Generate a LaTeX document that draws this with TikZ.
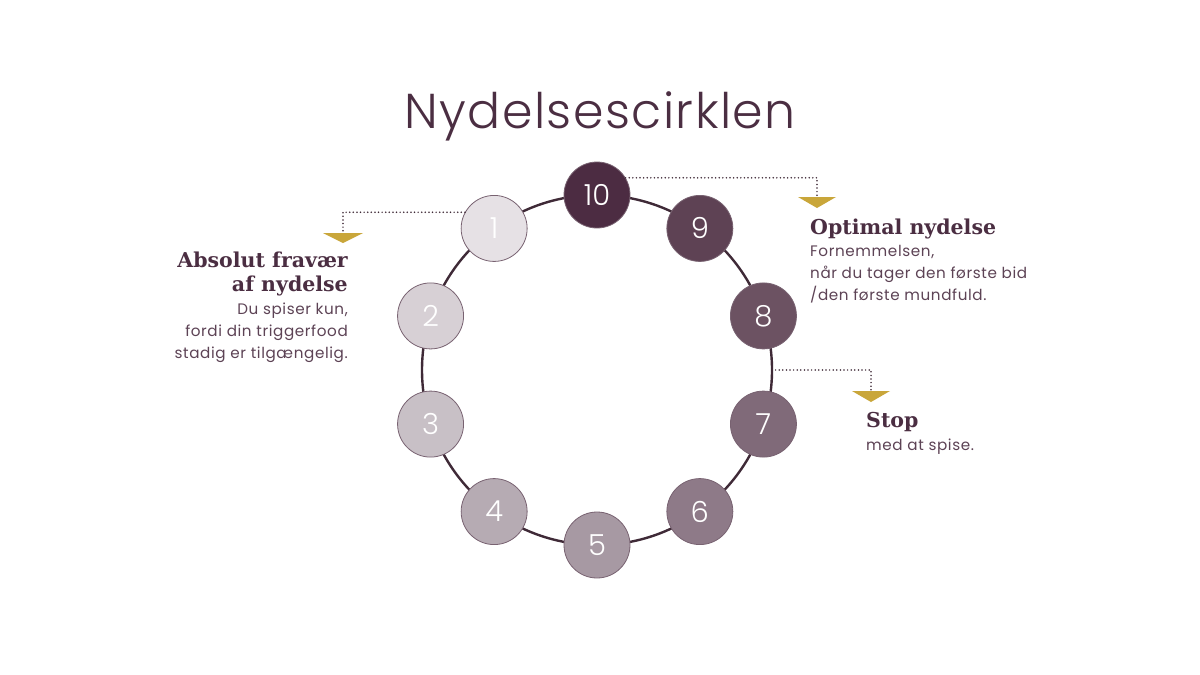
\documentclass[tikz,border=0pt]{standalone}
\usepackage{fontspec}
\setmainfont{Poppins}[LetterSpace=4]
\newfontfamily\thinfont{Poppins Light}
\newfontfamily\titlefont{Poppins Light}[LetterSpace=3]
\newfontfamily\headfont{DejaVu Serif}
\usepackage{tikz}
\usetikzlibrary{positioning}
\usetikzlibrary{calc}
\definecolor{plum}{HTML}{4B2E42}
\definecolor{ringline}{HTML}{3F2A37}
\definecolor{gold}{HTML}{C9A63A}
\definecolor{c1}{HTML}{E6E1E5}
\definecolor{c2}{HTML}{D7D0D5}
\definecolor{c3}{HTML}{C8C0C6}
\definecolor{c4}{HTML}{B6ABB3}
\definecolor{c5}{HTML}{A799A3}
\definecolor{c6}{HTML}{8E7A88}
\definecolor{c7}{HTML}{806A79}
\definecolor{c8}{HTML}{6C5262}
\definecolor{c9}{HTML}{5E4254}
\definecolor{c10}{HTML}{4C2C42}
\tikzstyle{num} = [draw=plum!75, circle, minimum size=66pt, inner sep=0pt, line width=0.8pt, text=white, font=\thinfont\fontsize{29}{29}\selectfont]
\tikzstyle{coord} = [coordinate]
\tikzstyle{link} = [ringline, line width=1.7pt, line cap=round, dash pattern=on 0pt off 3.6pt]
\tikzstyle{head} = [inner sep=0pt, text=plum, font=\headfont\bfseries\fontsize{20.5}{24}\selectfont]
\tikzstyle{body} = [inner sep=0pt, text=plum!90, font=\fontsize{15.2}{22}\selectfont]

\begin{document}
\begin{tikzpicture}[x=1pt,y=-1pt]
    \useasboundingbox[fill=white] (0,0) rectangle (1200,675);
    \node [text=plum, anchor=base, font=\titlefont\fontsize{49}{49}\selectfont] (title) at (600,128) {Nydelsescirklen};

    % the ring
    \node [coord] (center) at (597,370) {};
    \draw [ringline, line width=2.4pt] (center) circle [radius=175];
    \node [coord] (ringE) at ($(center)+(0:175)$) {};

    \node [num, fill=c10] (n10) at ($(center)+(-90:175)$) {10};
    \node [num, fill=c9] (n9) at ($(center)+(-54:175)$) {9};
    \node [num, fill=c8] (n8) at ($(center)+(-18:175)$) {8};
    \node [num, fill=c7] (n7) at ($(center)+(18:175)$) {7};
    \node [num, fill=c6] (n6) at ($(center)+(54:175)$) {6};
    \node [num, fill=c5] (n5) at ($(center)+(90:175)$) {5};
    \node [num, fill=c4] (n4) at ($(center)+(126:175)$) {4};
    \node [num, fill=c3] (n3) at ($(center)+(162:175)$) {3};
    \node [num, fill=c2] (n2) at ($(center)+(198:175)$) {2};
    \node [num, fill=c1] (n1) at ($(center)+(234:175)$) {1};

    % markers
    \node [coord] (mark1) at (343,233) {};
    \node [coord] (mark10) at (817,197) {};
    \node [coord] (mark7) at (871,391) {};
    \draw [link] (n1.151) -| (mark1);
    \draw [link] (n10.31) -| (mark10);
    \draw [link] (ringE) -| (mark7);
    \fill [gold] ($(mark1)+(-20,0)$) -- ($(mark1)+(20,0)$) -- ($(mark1)+(0,10)$) -- cycle;
    \fill [gold] ($(mark10)+(-19,0)$) -- ($(mark10)+(19,0)$) -- ($(mark10)+(0,11)$) -- cycle;
    \fill [gold] ($(mark7)+(-19,0)$) -- ($(mark7)+(19,0)$) -- ($(mark7)+(0,11)$) -- cycle;

    % texts (base = last line)
    \node [head, anchor=base east, align=right] (absent) at (348,291) {Absolut fravær\\af nydelse};
    \node [body, anchor=base east, align=right] (absenttxt) at (348,358) {Du spiser kun,\\fordi din triggerfood\\stadig er tilgængelig.};
    \node [head, anchor=base west] (optimal) at (810,234) {Optimal nydelse};
    \node [body, anchor=base west, align=left] (optimaltxt) at (810,300) {Fornemmelsen,\\når du tager den første bid\\/den første mundfuld.};
    \node [head, anchor=base west] (stop) at (866,427) {Stop};
    \node [body, anchor=base west] (stoptxt) at (866,450) {med at spise.};
\end{tikzpicture}
\end{document}
